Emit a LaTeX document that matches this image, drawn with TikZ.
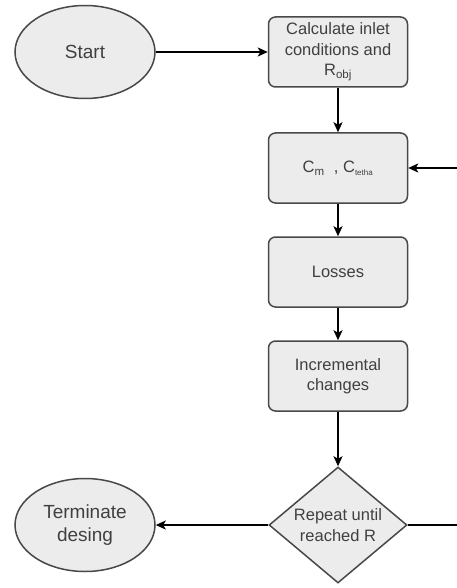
\documentclass[tikz,border=0pt]{standalone}
\usepackage{fontspec}
\setmainfont{Liberation Sans}
\usetikzlibrary{positioning,arrows.meta,shapes.geometric}
\definecolor{ink}{RGB}{64,64,64}
\definecolor{frame}{RGB}{72,72,72}
\definecolor{nodegray}{RGB}{236,236,236}
\tikzset{
  procbox/.style={draw=frame, fill=nodegray, rounded corners=7pt, align=center,
    minimum width=139pt, minimum height=70pt, inner sep=2pt, text=ink,
    font=\fontsize{16.5}{20.5}\selectfont, line width=1.5pt},
  termell/.style={draw=frame, fill=nodegray, ellipse, align=center,
    minimum width=140pt, minimum height=93pt, inner sep=0pt, text=ink,
    font=\fontsize{19}{23}\selectfont, line width=1.5pt},
  decide/.style={draw=frame, fill=nodegray, diamond, shape aspect=1.19, align=center,
    minimum width=138pt, minimum height=116pt, inner sep=0pt, text=ink,
    font=\fontsize{16.5}{20.5}\selectfont, line width=1.5pt},
  flow/.style={-{Stealth[length=10pt,width=9pt,inset=2.5pt]}, line width=1.5pt, draw=black},
  line/.style={line width=1.5pt, draw=black},
}
\begin{document}
\begin{tikzpicture}[x=1pt,y=-1pt]
  \useasboundingbox (0,0) rectangle (457,588);
  % nodes
  \node[termell] (start) at (85,52) {Start};
  \node[procbox] (inlet) at (338,52) {Calculate inlet\\conditions and\\R\textsubscript{obj}};
  \node[procbox] (coef) at (338,168) {C\textsubscript{m} \ , C\textsubscript{\footnotesize tetha}};
  \node[procbox] (loss) at (338,272) {Losses};
  \node[procbox] (incr) at (338,376) {Incremental\\changes};
  \node[decide] (rep) at (338,525) {Repeat until\\reached R};
  \node[termell] (term) at (85,525) {Terminate\\desing};
  \coordinate (loopin) at (457,168);
  \coordinate (loopout) at (457,525);
  % connectors
  \draw[flow] (start) -- (inlet);
  \draw[flow] (inlet) -- (coef);
  \draw[flow] (loopin) -- (coef);
  \draw[flow] (coef) -- (loss);
  \draw[flow] (loss) -- (incr);
  \draw[flow] (incr) -- (rep);
  \draw[flow] (rep) -- (term);
  \draw[line] (rep) -- (loopout);
\end{tikzpicture}
\end{document}
